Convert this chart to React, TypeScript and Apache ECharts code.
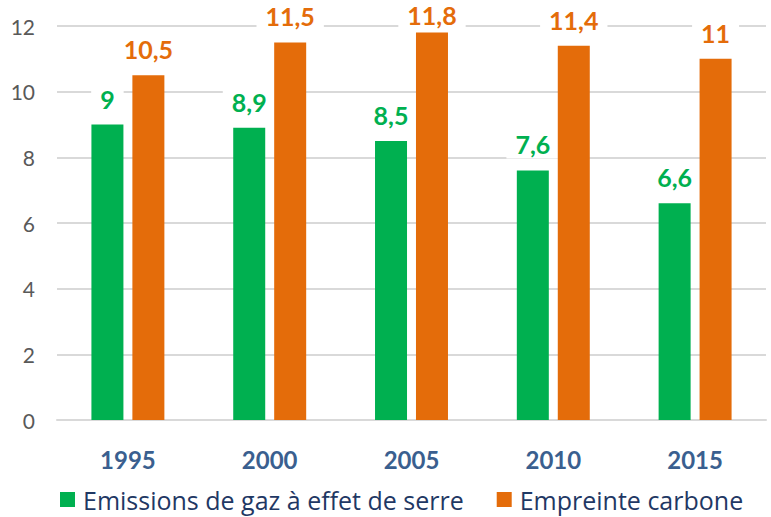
import React, { useEffect, useRef } from "react";
import * as echarts from "echarts";

const years = ["1995", "2000", "2005", "2010", "2015"];
const emissions = [9, 8.9, 8.5, 7.6, 6.6];
const empreinte = [10.5, 11.5, 11.8, 11.4, 11];
const seriesNames = ["Emissions de gaz à effet de serre", "Empreinte carbone"];
const green = "#00B050";
const orange = "#E46C0A";
const fontFamily = "Lato, 'Open Sans', sans-serif";

const fmt = (v: number) => String(v).replace(".", ",");

export default function App() {
  const ref = useRef<HTMLDivElement>(null);
  useEffect(() => {
    if (!ref.current) return;
    const chart = echarts.init(ref.current, undefined, { renderer: "svg" });
    const label = (color: string) => ({
      show: true,
      position: "top" as const,
      distance: 12,
      color,
      fontFamily,
      fontWeight: "bold" as const,
      fontSize: 25,
      lineHeight: 26,
      backgroundColor: "#ffffff",
      padding: [1, 9, 1, 9],
      formatter: (p: any) => fmt(p.value),
    });
    const yMax = 12;
    const orangeData = empreinte.map((v) =>
      v > yMax - 0.5 ? { value: v, label: { distance: 4 } } : v
    );
    chart.setOption({
      animation: false,
      textStyle: { fontFamily },
      grid: { left: 57, right: 5, top: 26, bottom: 97, containLabel: false },
      legend: {
        bottom: 0,
        left: 55,
        itemWidth: 15,
        itemHeight: 15,
        itemGap: 33,
        icon: "rect",
        textStyle: {
          color: "#1F3864",
          fontSize: 25,
          fontFamily: "'Open Sans', sans-serif",
          padding: [0, 0, 0, 3],
        },
        data: seriesNames,
      },
      xAxis: {
        type: "category",
        data: years,
        axisLine: { show: true, lineStyle: { color: "#D9D9D9", width: 2 } },
        axisTick: { show: false },
        axisLabel: {
          color: "#3A5F8F",
          fontWeight: "bold",
          fontSize: 24,
          margin: 27,
          fontFamily,
        },
      },
      yAxis: {
        type: "value",
        min: 0,
        max: yMax,
        interval: 2,
        axisLine: { show: false },
        axisTick: { show: false },
        splitLine: { lineStyle: { color: "#D9D9D9", width: 2 } },
        axisLabel: { color: "#595959", fontSize: 21, margin: 22, fontFamily },
      },
      series: [
        {
          name: seriesNames[0],
          type: "bar",
          z: 2,
          data: emissions,
          barWidth: 32,
          barGap: "28%",
          itemStyle: { color: green },
          label: label(green),
        },
        {
          name: seriesNames[1],
          type: "bar",
          z: 3,
          data: orangeData,
          barWidth: 32,
          itemStyle: { color: orange },
          label: label(orange),
        },
      ],
    });
    return () => chart.dispose();
  }, []);
  return <div ref={ref} style={{ width: 771, height: 517, position: "absolute", left: 0, top: 0 }} />;
}
